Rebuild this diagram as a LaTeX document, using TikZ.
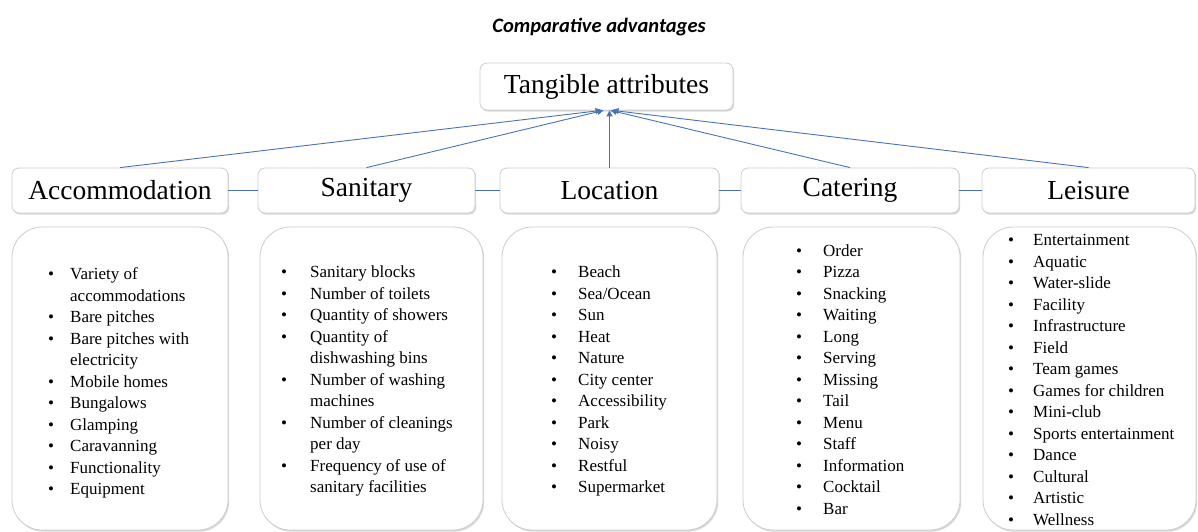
\documentclass[tikz,border=0pt]{standalone}
\usepackage{fontspec}
\setmainfont{Liberation Serif}
\newfontfamily\titlefont{Carlito}
\usetikzlibrary{arrows.meta,shadows}

\definecolor{linkblue}{RGB}{74,114,186}
\definecolor{boxline}{RGB}{205,205,205}

\newcommand\bul{\textbullet}

\tikzset{
  softshadow/.style={drop shadow={shadow xshift=1.2pt, shadow yshift=-1.6pt, opacity=0.25, fill=black!60}},
  headbox/.style={draw=boxline, line width=0.8pt, fill=white, rounded corners=7pt,
    inner sep=0pt, font=\fontsize{27.5}{30}\selectfont, softshadow},
  listbox/.style={draw=boxline, line width=0.8pt, fill=white, rounded corners=30pt,
    inner sep=0pt, softshadow},
  listtext/.style={anchor=west, inner sep=0pt, font=\fontsize{17}{21.5}\selectfont},
  link/.style={draw=linkblue, line width=0.9pt},
  uplink/.style={link, -{Triangle[length=6pt,width=6pt]}},
}

\begin{document}
\begin{tikzpicture}[x=1pt, y=-1pt]
  \useasboundingbox (0,0) rectangle (1198,532);
  \fill[white] (0,0) rectangle (1198,532);

  % heading
  \node[font=\titlefont\bfseries\itshape\fontsize{20.5}{24}\selectfont, anchor=base]
    (title) at (599,33) {Comparative advantages};

  % top of the hierarchy
  \node[headbox, minimum width=253pt, minimum height=47pt] (top) at (606.5,86.5) {Tangible attributes};

  % categories
  \node[headbox, minimum width=216pt, minimum height=45pt] (acc) at (120,190.5)   {Accommodation};
  \node[headbox, minimum width=217pt, minimum height=45pt] (san) at (366.5,190.5) {Sanitary};
  \node[headbox, minimum width=219pt, minimum height=45pt] (loc) at (609.5,190.5) {Location};
  \node[headbox, minimum width=218pt, minimum height=45pt] (cat) at (850,190.5)   {Catering};
  \node[headbox, minimum width=213pt, minimum height=45pt] (lei) at (1088.5,190.5){Leisure};

  % links between categories
  \draw[link] (acc.east) -- (san.west);
  \draw[link] (san.east) -- (loc.west);
  \draw[link] (loc.east) -- (cat.west);
  \draw[link] (cat.east) -- (lei.west);

  % links up to the top node
  \draw[uplink] (acc.north) -- ([xshift=-5pt]top.south);
  \draw[uplink] (san.north) -- ([xshift=-3pt]top.south);
  \draw[uplink] (loc.north) -- (loc.north |- top.south);
  \draw[uplink] (cat.north) -- ([xshift=4pt]top.south);
  \draw[uplink] (lei.north) -- ([xshift=6pt]top.south);

  % detail boxes
  \node[listbox, minimum width=216pt, minimum height=303pt] (accL) at (120,378.5) {};
  \node[listbox, minimum width=223pt, minimum height=303pt] (sanL) at (371.5,378.5) {};
  \node[listbox, minimum width=215pt, minimum height=303pt] (locL) at (609.5,378.5) {};
  \node[listbox, minimum width=217pt, minimum height=303pt] (catL) at (851.5,378.5) {};
  \node[listbox, minimum width=213pt, minimum height=303pt] (leiL) at (1089.5,378.5) {};

  % detail lists
  \node[listtext] (accT) at (48,383) {\begin{tabular}{@{}p{22pt}@{}l@{}}
    \bul & Variety of\\
         & accommodations\\
    \bul & Bare pitches\\
    \bul & Bare pitches with\\
         & electricity\\
    \bul & Mobile homes\\
    \bul & Bungalows\\
    \bul & Glamping\\
    \bul & Caravanning\\
    \bul & Functionality\\
    \bul & Equipment
  \end{tabular}};

  \node[listtext] (sanT) at (281,381) {\begin{tabular}{@{}p{29pt}@{}l@{}}
    \bul & Sanitary blocks\\
    \bul & Number of toilets\\
    \bul & Quantity of showers\\
    \bul & Quantity of\\
         & dishwashing bins\\
    \bul & Number of washing\\
         & machines\\
    \bul & Number of cleanings\\
         & per day\\
    \bul & Frequency of use of\\
         & sanitary facilities
  \end{tabular}};

  \node[listtext] (locT) at (551,381) {\begin{tabular}{@{}p{27pt}@{}l@{}}
    \bul & Beach\\
    \bul & Sea/Ocean\\
    \bul & Sun\\
    \bul & Heat\\
    \bul & Nature\\
    \bul & City center\\
    \bul & Accessibility\\
    \bul & Park\\
    \bul & Noisy\\
    \bul & Restful\\
    \bul & Supermarket
  \end{tabular}};

  \node[listtext] (catT) at (796,381) {\begin{tabular}{@{}p{27pt}@{}l@{}}
    \bul & Order\\
    \bul & Pizza\\
    \bul & Snacking\\
    \bul & Waiting\\
    \bul & Long\\
    \bul & Serving\\
    \bul & Missing\\
    \bul & Tail\\
    \bul & Menu\\
    \bul & Staff\\
    \bul & Information\\
    \bul & Cocktail\\
    \bul & Bar
  \end{tabular}};

  \node[listtext] (leiT) at (1008,381) {\begin{tabular}{@{}p{25pt}@{}l@{}}
    \bul & Entertainment\\
    \bul & Aquatic\\
    \bul & Water-slide\\
    \bul & Facility\\
    \bul & Infrastructure\\
    \bul & Field\\
    \bul & Team games\\
    \bul & Games for children\\
    \bul & Mini-club\\
    \bul & Sports entertainment\\
    \bul & Dance\\
    \bul & Cultural\\
    \bul & Artistic\\
    \bul & Wellness
  \end{tabular}};
\end{tikzpicture}
\end{document}
